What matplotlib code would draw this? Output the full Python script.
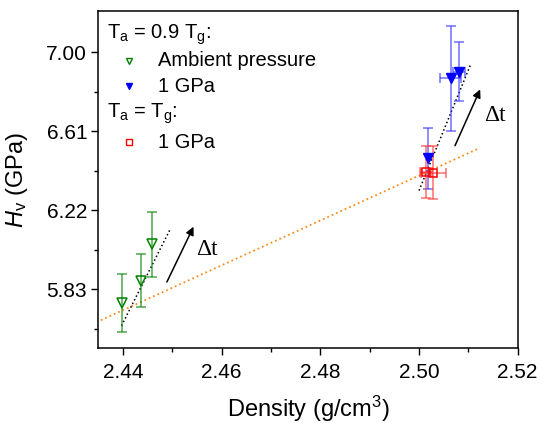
import matplotlib
matplotlib.use("Agg")
import matplotlib.pyplot as plt
from matplotlib.ticker import FixedLocator, FixedFormatter

plt.rcParams['font.family'] = ['Liberation Sans', 'DejaVu Sans']
plt.rcParams['mathtext.fontset'] = 'custom'
plt.rcParams['mathtext.rm'] = 'Liberation Sans'
plt.rcParams['mathtext.it'] = 'Liberation Sans:italic'

# Ta = 0.9 Tg, ambient pressure
amb_density = [2.4399, 2.4436, 2.4458]
amb_hv = [5.764, 5.872, 6.052]
amb_err = [0.143, 0.13, 0.16]

# Ta = 0.9 Tg, 1 GPa
gpa_density = [2.5019, 2.5064, 2.5081]
gpa_hv = [6.477, 6.872, 6.904]
gpa_err = [0.15, 0.26, 0.145]
gpa_xerr = [0.0, 0.0022, 0.0012]

# Ta = Tg, 1 GPa
tg_density = [2.5015, 2.5029]
tg_hv = [6.408, 6.406]
tg_err = [0.127, 0.13]
tg_xerr = [0.0012, 0.0025]

# guide lines
fit_x = [2.4355, 2.512]
fit_y = [5.677, 6.524]
amb_trend_x = [2.4397, 2.4496]
amb_trend_y = [5.65, 6.128]
gpa_trend_x = [2.5000, 2.5105]
gpa_trend_y = [6.317, 6.942]

yticks = [5.83, 6.22, 6.61, 7.00]
yticklabels = ["5.83", "6.22", "6.61", "7.00"]
xticks = [2.44, 2.46, 2.48, 2.50, 2.52]

fig = plt.figure(figsize=(5.42, 4.23), dpi=100)
ax = fig.add_axes([0.1814, 0.1773, 0.7737, 0.7967])

ax.plot(fit_x, fit_y, ':', color='#ff8c1a', lw=1.3)
ax.plot(amb_trend_x, amb_trend_y, ':', color='black', lw=1.1)
ax.plot(gpa_trend_x, gpa_trend_y, ':', color='black', lw=1.1)

ax.errorbar(amb_density, amb_hv, yerr=amb_err, fmt='v', ms=7, mfc='none',
            mec='#008000', mew=1.1, ecolor=(0, 0.5, 0, 0.7), elinewidth=1.1,
            capsize=3.5, capthick=1.1)
ax.errorbar(gpa_density, gpa_hv, yerr=gpa_err, xerr=gpa_xerr, fmt='v', ms=7,
            mfc='#0000ff', mec='#0000ff', ecolor=(0.2, 0.2, 1, 0.7),
            elinewidth=1.1, capsize=3.5, capthick=1.1)
ax.errorbar(tg_density, tg_hv, yerr=tg_err, xerr=tg_xerr, fmt='s', ms=6,
            mfc='none', mec='#ff0000', mew=1.1, ecolor=(1, 0.2, 0.2, 0.7),
            elinewidth=1.1, capsize=3.5, capthick=1.1)

# annealing-time arrows
arrow = dict(arrowstyle='-|>', color='black', lw=1.1, mutation_scale=12,
             shrinkA=0, shrinkB=0)
ax.annotate('', xy=(2.4543, 6.139), xytext=(2.4489, 5.866), arrowprops=arrow)
ax.annotate('', xy=(2.5124, 6.817), xytext=(2.5073, 6.539), arrowprops=arrow)
ax.text(2.4571, 6.024, 'Δt', family='Liberation Serif', fontsize=17,
        ha='center', va='center')
ax.text(2.5153, 6.687, 'Δt', family='Liberation Serif', fontsize=17,
        ha='center', va='center')

ax.set_xlim(2.435, 2.52)
ax.set_ylim(5.54, 7.204)
ax.xaxis.set_major_locator(FixedLocator(xticks))
ax.xaxis.set_minor_locator(FixedLocator([2.45, 2.47, 2.49, 2.51]))
ax.yaxis.set_major_locator(FixedLocator(yticks))
ax.yaxis.set_major_formatter(FixedFormatter(yticklabels))
ax.yaxis.set_minor_locator(FixedLocator([5.635, 6.025, 6.415, 6.805]))
ax.tick_params(which='both', direction='out', top=False, right=False,
               labelsize=15, width=1)
ax.tick_params(which='major', length=5)
ax.tick_params(which='minor', length=3)
ax.tick_params(axis='x', pad=6)
ax.tick_params(axis='y', pad=3)
for s in ax.spines.values():
    s.set_linewidth(1.1)

ax.set_xlabel(r'Density (g/cm$^\mathregular{3}$)', fontsize=17)
ax.set_ylabel(r'$H_\mathregular{v}$ (GPa)', fontsize=17)
ax.xaxis.set_label_coords(0.5, -0.135)
ax.yaxis.set_label_coords(-0.163, 0.5)

# legend drawn by hand
tr = ax.transAxes
fs = 14.5
ax.text(0.02, 0.93, r'T$_\mathregular{a}$ = 0.9 T$_\mathregular{g}$:', transform=tr,
        fontsize=fs, va='center')
ax.plot([0.072], [0.853], 'v', ms=5, mfc='none', mec='#008000', mew=1,
        transform=tr, clip_on=False)
ax.text(0.143, 0.853, 'Ambient pressure', transform=tr, fontsize=fs, va='center')
ax.plot([0.072], [0.776], 'v', ms=5, color='#0000ff', transform=tr,
        clip_on=False)
ax.text(0.143, 0.776, '1 GPa', transform=tr, fontsize=fs, va='center')
ax.text(0.02, 0.694, r'T$_\mathregular{a}$ = T$_\mathregular{g}$:', transform=tr,
        fontsize=fs, va='center')
ax.plot([0.072], [0.61], 's', ms=4.5, mfc='none', mec='#ff0000', mew=1,
        transform=tr, clip_on=False)
ax.text(0.143, 0.61, '1 GPa', transform=tr, fontsize=fs, va='center')

fig.savefig('out.png', dpi=100)
